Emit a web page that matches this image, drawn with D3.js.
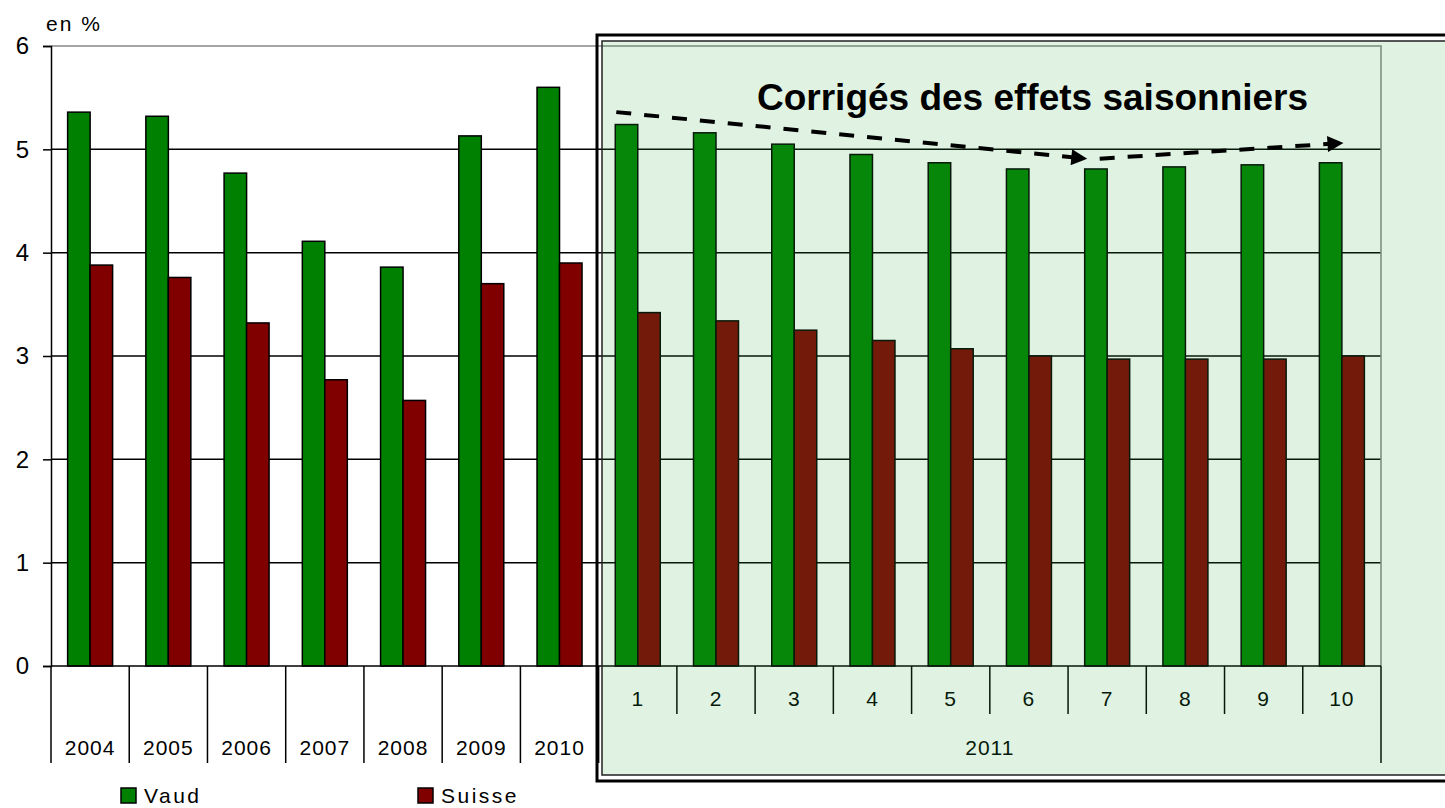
<!DOCTYPE html>
<html>
<head>
<meta charset="utf-8">
<script src="https://cdn.jsdelivr.net/npm/d3@7"></script>
<style>
  body { margin: 0; background: #fff; }
  svg { display: block; font-family: "Liberation Sans", Arial, sans-serif; }
</style>
</head>
<body>
<div id="chart"></div>
<script>
const WIDTH = 1445;
const HEIGHT = 808;

// categories: years, then months of 2011
const years = ["2004", "2005", "2006", "2007", "2008", "2009", "2010"];
const months = ["1", "2", "3", "4", "5", "6", "7", "8", "9", "10"];
const groupLabel = "2011";

// unemployment rates, in %
const vaud = [5.36, 5.32, 4.77, 4.11, 3.86, 5.13, 5.60,
  5.24, 5.16, 5.05, 4.95, 4.87, 4.81, 4.81, 4.83, 4.85, 4.87];
const suisse = [3.88, 3.76, 3.32, 2.77, 2.57, 3.70, 3.90,
  3.42, 3.34, 3.25, 3.15, 3.07, 3.00, 2.97, 2.97, 2.97, 3.00];

const yTicks = [0, 1, 2, 3, 4, 5, 6];
const seriesNames = ["Vaud", "Suisse"];
const seriesColors = ["#008000", "#800000"];

// trend arrows (category key, value)
const trendDown = [["m1", 5.36], ["m7", 4.91]];
const trendUp = [["m7", 4.91], ["m10", 5.06]];

const keys = years.map(y => "y" + y).concat(months.map(m => "m" + m));
const labels = years.concat(months);
const rows = keys.map((k, i) => ({ key: k, label: labels[i], values: [vaud[i], suisse[i]] }));

const plot = { left: 51, right: 1381, top: 46, bottom: 666 };

let svg = d3.select("#chart").append("svg")
  .attr("width", WIDTH)
  .attr("height", HEIGHT);

let x = d3.scaleBand()
  .domain(keys)
  .range([plot.left, plot.right])
  .paddingInner(0.425)
  .paddingOuter(0.2125);

let xs = d3.scaleBand()
  .domain([0, 1])
  .range([0, x.bandwidth()]);

let y = d3.scaleLinear()
  .domain([0, 6])
  .range([plot.bottom, plot.top]);

//gridlines
svg.append("g")
  .selectAll("line")
  .data(yTicks.filter(t => t > 0 && t < 6))
  .enter()
  .append("line")
  .attr("x1", plot.left)
  .attr("x2", plot.right)
  .attr("y1", d => y(d))
  .attr("y2", d => y(d))
  .attr("stroke", "#000")
  .attr("stroke-width", 1.5);

//plot area border (gray)
svg.append("path")
  .attr("d", `M${plot.left},${y(6)}H${plot.right}V${plot.bottom}`)
  .attr("fill", "none")
  .attr("stroke", "#888")
  .attr("stroke-width", 1.5);

//bars
let groups = svg.append("g")
  .selectAll("g")
  .data(rows)
  .enter()
  .append("g")
  .attr("transform", d => `translate(${x(d.key)},0)`);

groups.selectAll("rect")
  .data(d => d.values)
  .enter()
  .append("rect")
  .attr("x", (d, i) => xs(i))
  .attr("y", d => y(d))
  .attr("width", xs.bandwidth())
  .attr("height", d => y(0) - y(d))
  .attr("fill", (d, i) => seriesColors[i])
  .attr("stroke", "#000")
  .attr("stroke-width", 1.5);

//y axis
let yAxis = svg.append("g")
  .attr("transform", `translate(${plot.left},0)`)
  .call(d3.axisLeft(y).tickValues(yTicks).tickSize(8).tickPadding(14).tickFormat(d3.format("d")));
yAxis.select(".domain").attr("stroke", "#000").attr("stroke-width", 1.5);
yAxis.selectAll(".tick line").attr("stroke", "#000").attr("stroke-width", 1.5);
yAxis.selectAll("text")
  .attr("fill", "#000")
  .style("font-size", "24px")
  .style("font-family", "'Liberation Sans', Arial, sans-serif");

svg.append("text")
  .attr("x", 46)
  .attr("y", 31)
  .style("font-size", "21px")
  .style("letter-spacing", "2px")
  .text("en %");

//category axis, two levels
let xAxis = svg.append("g");
xAxis.append("line")
  .attr("x1", plot.left).attr("x2", plot.right)
  .attr("y1", plot.bottom).attr("y2", plot.bottom)
  .attr("stroke", "#000").attr("stroke-width", 1.5);

let step = x.step();
let edge = k => x(k) - (step - x.bandwidth()) / 2;

//year boundaries (long)
let longTicks = years.map(yr => edge("y" + yr));
longTicks.push(edge("m1"));
longTicks.push(plot.right);
xAxis.selectAll("line.long")
  .data(longTicks)
  .enter()
  .append("line")
  .attr("class", "long")
  .attr("x1", d => d).attr("x2", d => d)
  .attr("y1", plot.bottom).attr("y2", 763)
  .attr("stroke", "#000").attr("stroke-width", 1.5);

//month boundaries (short)
xAxis.selectAll("line.short")
  .data(months.slice(1))
  .enter()
  .append("line")
  .attr("class", "short")
  .attr("x1", d => edge("m" + d)).attr("x2", d => edge("m" + d))
  .attr("y1", plot.bottom).attr("y2", 714)
  .attr("stroke", "#000").attr("stroke-width", 1.5);

xAxis.selectAll("text.year")
  .data(years)
  .enter()
  .append("text")
  .attr("class", "year")
  .attr("x", d => x("y" + d) + x.bandwidth() / 2)
  .attr("y", 755)
  .attr("text-anchor", "middle")
  .style("font-size", "21px")
  .style("letter-spacing", "1px")
  .text(d => d);

xAxis.selectAll("text.month")
  .data(months)
  .enter()
  .append("text")
  .attr("class", "month")
  .attr("x", d => x("m" + d) + x.bandwidth() / 2)
  .attr("y", 706)
  .attr("text-anchor", "middle")
  .style("font-size", "21px")
  .style("letter-spacing", "1px")
  .text(d => d);

xAxis.append("text")
  .attr("x", (edge("m1") + plot.right) / 2)
  .attr("y", 755)
  .attr("text-anchor", "middle")
  .style("font-size", "21px")
  .style("letter-spacing", "1px")
  .text(groupLabel);

//highlight box over 2011
let box = svg.append("g");
box.append("rect")
  .attr("x", 602).attr("y", 41)
  .attr("width", WIDTH - 602 + 10).attr("height", 775 - 41)
  .attr("fill", "rgba(46,174,66,0.15)")
  .attr("stroke", "#222")
  .attr("stroke-width", 1.5);
box.append("rect")
  .attr("x", 597).attr("y", 35)
  .attr("width", WIDTH - 597 + 10).attr("height", 781 - 35)
  .attr("fill", "none")
  .attr("stroke", "#000")
  .attr("stroke-width", 3);

box.append("text")
  .attr("x", 757)
  .attr("y", 110)
  .style("font-size", "37px")
  .style("font-weight", "bold")
  .text("Corrigés des effets saisonniers");

//arrows
svg.append("defs").append("marker")
  .attr("id", "arrow")
  .attr("viewBox", "0 0 10 10")
  .attr("refX", 9).attr("refY", 5)
  .attr("markerWidth", 4.5).attr("markerHeight", 4)
  .attr("markerUnits", "strokeWidth")
  .attr("orient", "auto")
  .append("path")
  .attr("d", "M0,0L10,5L0,10Z")
  .attr("fill", "#000");

svg.append("line")
  .attr("x1", x(trendDown[0][0]) + 1).attr("y1", y(trendDown[0][1]))
  .attr("x2", x(trendDown[1][0]) + 1).attr("y2", y(trendDown[1][1]))
  .attr("stroke", "#000").attr("stroke-width", 4)
  .attr("stroke-dasharray", "15,13")
  .attr("marker-end", "url(#arrow)");

svg.append("line")
  .attr("x1", x(trendUp[0][0]) + 15).attr("y1", y(trendUp[0][1]))
  .attr("x2", x(trendUp[1][0]) + x.bandwidth() / 2).attr("y2", y(trendUp[1][1]))
  .attr("stroke", "#000").attr("stroke-width", 4)
  .attr("stroke-dasharray", "15,13")
  .attr("marker-end", "url(#arrow)");

//legend
let legend = svg.append("g")
  .selectAll("g")
  .data(seriesNames)
  .enter()
  .append("g")
  .attr("transform", (d, i) => `translate(${121 + i * 297},788)`);
legend.append("rect")
  .attr("width", 15).attr("height", 15)
  .attr("fill", (d, i) => seriesColors[i])
  .attr("stroke", "#000").attr("stroke-width", 1.5);
legend.append("text")
  .attr("x", 23).attr("y", 15)
  .style("font-size", "21px")
  .style("letter-spacing", "2.5px")
  .text(d => d);
</script>
</body>
</html>
